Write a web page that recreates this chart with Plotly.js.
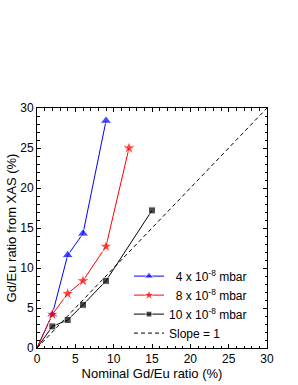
<!DOCTYPE html>
<html><head><meta charset="utf-8">
<script src="https://cdn.plot.ly/plotly-3.0.1.min.js"></script>
<style>body{margin:0;background:#fff}#plot{width:298px;height:385px}</style>
</head><body><div id="plot"></div>
<script>
const blueX = [0, 2, 4, 6, 9];
const blueY = [0, 4.2, 11.6, 14.3, 28.4];
const redX = [0, 2, 4, 6, 9, 12];
const redY = [0, 4.2, 6.8, 8.4, 12.7, 25.0];
const blackX = [0, 2, 4, 6, 9, 15];
const blackY = [0, 2.7, 3.5, 5.4, 8.4, 17.2];
const slopeX = [0, 30];
const slopeY = [0, 30];
const names = ['\u00a0\u00a04 x 10<sup>-8</sup> mbar', '\u00a0\u00a08 x 10<sup>-8</sup> mbar', '10 x 10<sup>-8</sup> mbar', 'Slope = 1'];

function sizes(n, s){ return Array.from({length:n}, (_, i) => i === 0 ? 0 : s); }

const traces = [
  {x: blueX, y: blueY, name: names[0], mode: 'lines+markers', line: {color: '#0000ff', width: 1},
   marker: {symbol: 'triangle-up', color: '#0000ff', size: sizes(blueX.length, 10)}},
  {x: redX, y: redY, name: names[1], mode: 'lines+markers', line: {color: '#ff0000', width: 1},
   marker: {symbol: 'star', color: '#ff0000', size: sizes(redX.length, 10)}},
  {x: blackX, y: blackY, name: names[2], mode: 'lines+markers', line: {color: '#000000', width: 1},
   marker: {symbol: 'square', color: '#000000', size: sizes(blackX.length, 7)}},
  {x: slopeX, y: slopeY, name: names[3], mode: 'lines', line: {color: '#000000', width: 1, dash: '4px,3px'}}
];

const axisCommon = {
  range: [0, 30], dtick: 5, ticks: 'inside', ticklen: 4, tickwidth: 1, tickcolor: '#000',
  mirror: 'ticks', showline: true, linecolor: '#000', linewidth: 1, showgrid: false, zeroline: false,
  minor: {dtick: 1, ticks: 'inside', ticklen: 2.5, tickcolor: '#000', tickwidth: 1},
  tickfont: {family: 'Liberation Sans, Arial, sans-serif', size: 12, color: '#000'}
};

const layout = {
  width: 298, height: 385,
  margin: {l: 37, r: 31, t: 108, b: 37},
  paper_bgcolor: '#fff', plot_bgcolor: '#fff',
  font: {family: 'Liberation Sans, Arial, sans-serif', color: '#000'},
  showlegend: true,
  legend: {x: 0.40, y: 0.36, xanchor: 'left', yanchor: 'top', bgcolor: 'rgba(0,0,0,0)',
    font: {size: 12}, tracegroupgap: 0, itemwidth: 30},
  xaxis: Object.assign({}, axisCommon, {title: {text: 'Nominal Gd/Eu ratio (%)', font: {size: 13}, standoff: 0}}),
  yaxis: Object.assign({}, axisCommon, {title: {text: 'Gd/Eu ratio from XAS (%)', font: {size: 13}, standoff: 0}})
};

Plotly.newPlot('plot', traces, layout, {displayModeBar: false, staticPlot: true});
</script></body></html>
